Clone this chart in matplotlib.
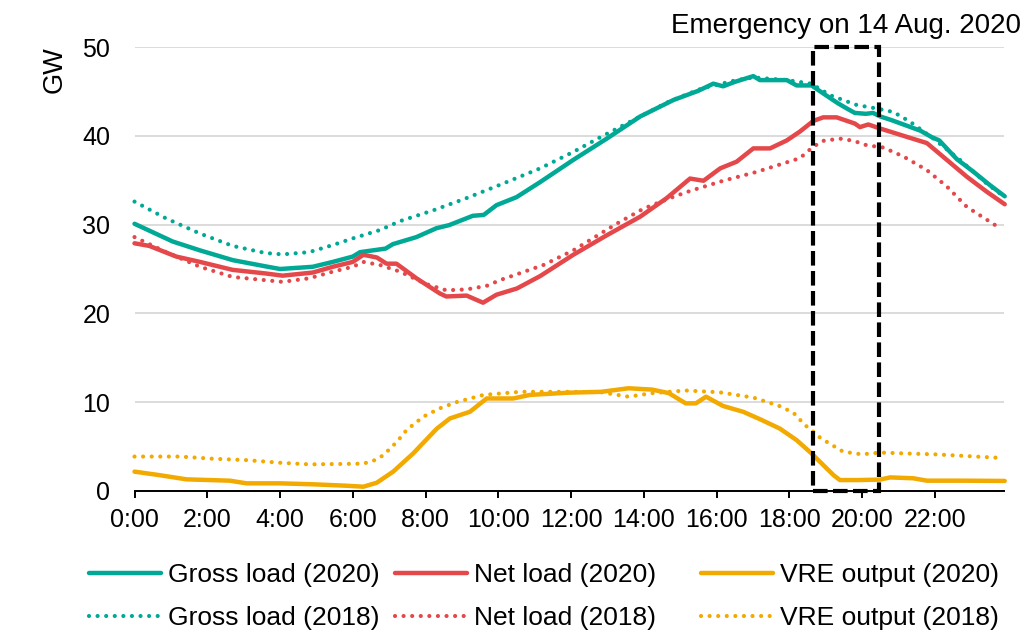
import matplotlib.pyplot as plt
from matplotlib.patches import Rectangle

plt.rcParams["font.family"] = ["Liberation Sans", "DejaVu Sans"]

# ── data (hour of day, GW) ───────────────────────────────────────────────────
gross_2020_h = [0.0, 1.05, 1.8, 2.7, 3.6, 4.0, 4.9, 5.45, 6.0, 6.2, 6.9, 7.1, 7.75, 8.3, 8.65,
                9.3, 9.6, 9.95, 10.5, 11.15, 12.06, 12.98, 13.9, 14.81, 15.5, 15.91, 16.18,
                16.5, 17.01, 17.19, 17.93, 18.2, 18.61, 18.93, 19.33, 19.58, 19.8, 20.1, 20.3,
                20.5, 20.8, 21.2, 21.6, 21.9, 22.12, 22.6, 23.05, 23.5, 23.92]
gross_2020 = [30.1, 28.1, 27.1, 26.0, 25.3, 25.0, 25.25, 25.8, 26.4, 26.9, 27.3, 27.8, 28.6, 29.6,
              29.95, 31.0, 31.1, 32.2, 33.1, 34.8, 37.3, 39.7, 42.2, 44.05, 45.1, 45.9, 45.6,
              46.1, 46.75, 46.3, 46.3, 45.7, 45.7, 44.8, 43.7, 43.1, 42.6, 42.5, 42.6,
              42.2, 41.8, 41.2, 40.6, 39.9, 39.5, 37.4, 36.0, 34.5, 33.2]

gross_2018_h = [0.0, 0.87, 1.8, 2.7, 3.6, 4.07, 4.8, 5.45, 6.0, 6.75, 7.3, 8.2, 9.13, 10.05,
                11.15, 12.06, 12.8, 13.9, 14.7, 15.62, 16.55, 17.01, 17.94, 18.6, 19.12, 19.58,
                19.85, 20.4, 20.86, 21.32, 21.96, 22.69, 23.42, 23.92]
gross_2018 = [32.6, 30.7, 29.0, 27.6, 26.8, 26.65, 26.9, 27.7, 28.45, 29.4, 30.4, 31.6, 33.0, 34.5,
              36.35, 38.2, 39.85, 42.2, 43.9, 45.4, 46.3, 46.6, 46.3, 45.9, 44.6, 43.9,
              43.5, 43.1, 42.7, 41.6, 39.7, 37.3, 34.65, 33.1]

net_2020_h = [0.0, 0.41, 1.15, 1.8, 2.7, 3.6, 4.07, 4.9, 5.45, 6.0, 6.29, 6.66, 6.93, 7.2, 7.75,
              8.39, 8.57, 9.13, 9.58, 9.95, 10.51, 11.15, 12.06, 12.98, 13.9, 14.63, 15.27,
              15.64, 16.1, 16.55, 17.01, 17.47, 17.93, 18.29, 18.66, 18.93, 19.3, 19.8, 19.94,
              20.17, 20.49, 21.23, 21.78, 22.33, 22.88, 23.43, 23.92]
net_2020 = [27.9, 27.6, 26.4, 25.8, 24.9, 24.5, 24.25, 24.6, 25.25, 25.8, 26.6, 26.3, 25.6, 25.6,
            23.95, 22.25, 21.9, 22.0, 21.2, 22.1, 22.8, 24.2, 26.6, 28.8, 30.9, 33.0, 35.2,
            34.95, 36.35, 37.1, 38.6, 38.6, 39.5, 40.5, 41.7, 42.1, 42.1, 41.4, 41.0,
            41.3, 40.85, 39.9, 39.2, 37.3, 35.4, 33.7, 32.3]

net_2018_h = [0.0, 0.87, 1.8, 2.7, 4.07, 4.8, 5.45, 6.0, 6.29, 6.75, 7.3, 8.02, 8.57, 9.13, 9.68,
              10.05, 11.24, 12.06, 13.25, 13.99, 14.72, 15.27, 16.18, 17.1, 17.83, 18.29, 18.66,
              18.93, 19.39, 19.77, 20.13, 20.58, 21.13, 21.78, 22.33, 22.88, 23.79]
net_2018 = [28.6, 26.9, 25.25, 24.1, 23.55, 23.95, 24.7, 25.25, 25.8, 25.45, 24.7, 23.3, 22.6, 22.7,
            23.1, 23.75, 25.45, 27.1, 30.1, 31.8, 33.0, 33.8, 34.95, 35.95, 36.9, 37.5, 38.8,
            39.45, 39.7, 39.45, 38.95, 38.7, 37.7, 36.15, 34.3, 32.0, 29.6]

vre_2020_h = [0.0, 0.66, 1.43, 2.62, 3.08, 4.0, 4.92, 5.83, 6.29, 6.66, 7.11, 7.66, 8.31, 8.67,
              9.22, 9.68, 10.41, 10.87, 11.91, 12.83, 13.58, 14.23, 14.69, 15.15, 15.43, 15.71,
              16.18, 16.73, 17.2, 17.74, 18.2, 18.61, 18.93, 19.21, 19.39, 19.9, 20.49, 20.77,
              21.41, 21.78, 22.78, 23.92]
vre_2020 = [2.15, 1.77, 1.28, 1.13, 0.83, 0.83, 0.72, 0.56, 0.45, 0.9, 2.15, 4.2, 7.0, 8.15,
            8.9, 10.4, 10.4, 10.8, 11.05, 11.15, 11.55, 11.4, 11.0, 9.85, 9.85, 10.6,
            9.55, 8.9, 8.05, 7.0, 5.7, 4.2, 2.9, 1.77, 1.2, 1.2, 1.25, 1.5,
            1.4, 1.13, 1.13, 1.1]

vre_2018_h = [0.0, 1.25, 2.17, 3.08, 4.0, 4.82, 6.29, 6.61, 6.84, 7.21, 7.48, 7.94, 8.4, 8.86,
              9.59, 10.6, 11.91, 12.83, 13.58, 14.23, 15.15, 16.08, 17.01, 17.7, 18.11, 18.43,
              18.66, 18.84, 19.07, 19.48, 19.99, 20.49, 21.2, 22.0, 22.9, 23.8]
vre_2018 = [3.85, 3.85, 3.6, 3.45, 3.15, 2.97, 3.05, 3.45, 4.0, 5.5, 6.85, 8.35, 9.3, 10.0,
            10.8, 11.15, 11.15, 11.1, 10.6, 11.0, 11.3, 11.1, 10.5, 9.6, 8.8, 7.4,
            6.65, 6.0, 5.4, 4.4, 4.1, 4.3, 4.2, 4.1, 3.9, 3.7]

hour_ticks = list(range(0, 24, 2))
hour_labels = [f"{h}:00" for h in hour_ticks]
gw_ticks = [0, 10, 20, 30, 40, 50]

emergency_start = 18.64   # box drawn round the 14 Aug. 2020 emergency
emergency_end = 20.47

TEAL = "#00A996"
RED = "#E4484A"
ORANGE = "#F2A900"

# ── figure ───────────────────────────────────────────────────────────────────
W, H = 1027, 635
fig = plt.figure(figsize=(W / 100, H / 100), dpi=100)
ax = fig.add_axes([134.5 / W, 1 - 490.7 / H, (1004 - 134.5) / W, (490.7 - 47.3) / H])

solid = dict(lw=3.2, solid_capstyle="round", solid_joinstyle="round", clip_on=False)
dotted = dict(lw=3.0, ls=(0, (0.01, 2.05)), dash_capstyle="round", clip_on=False)

l_g20, = ax.plot(gross_2020_h, gross_2020, color=TEAL, **solid)
l_n20, = ax.plot(net_2020_h, net_2020, color=RED, **solid)
l_v20, = ax.plot(vre_2020_h, vre_2020, color=ORANGE, **solid)
l_g18, = ax.plot(gross_2018_h, gross_2018, color=TEAL, **dotted)
l_n18, = ax.plot(net_2018_h, net_2018, color=RED, **dotted)
l_v18, = ax.plot(vre_2018_h, vre_2018, color=ORANGE, **dotted)

ax.add_patch(Rectangle((emergency_start, 0), emergency_end - emergency_start, 50,
                       fill=False, ec="black", lw=3, ls=(0, (3.5, 1.3)), clip_on=False, zorder=5))
ax.text((emergency_start + emergency_end) / 2, 51.6, "Emergency on 14 Aug. 2020",
        ha="center", va="baseline", fontsize=20)

ax.set_xlim(0, 23.9)
ax.set_ylim(0, 50)
ax.set_xticks(hour_ticks)
ax.set_xticklabels(hour_labels)
ax.set_yticks(gw_ticks)
ax.tick_params(axis="x", length=5, width=1.4, direction="out", pad=7.5, labelsize=18)
ax.tick_params(axis="y", length=0, pad=17.5, labelsize=18)
ax.yaxis.grid(True, color="#D9D9D9", lw=1.3)
ax.set_axisbelow(True)
for s in ("left", "right", "top"):
    ax.spines[s].set_visible(False)
ax.spines["bottom"].set_linewidth(1.4)

fig.text(55 / W, 1 - 46 / H, "GW", rotation=90, ha="center", va="top", fontsize=19.5)

leg_kw = dict(loc="upper left", frameon=False, fontsize=19, borderpad=0, borderaxespad=0,
              handlelength=2.73, handletextpad=0.26, labelspacing=0.72)
for x0, pair, names in [(88.9, (l_g20, l_g18), ("Gross load (2020)", "Gross load (2018)")),
                        (395, (l_n20, l_n18), ("Net load (2020)", "Net load (2018)")),
                        (701, (l_v20, l_v18), ("VRE output (2020)", "VRE output (2018)"))]:
    fig.legend(pair, names, bbox_to_anchor=(x0 / W, 1 - 563 / H), **leg_kw)

fig.savefig("out.png", dpi=100)
